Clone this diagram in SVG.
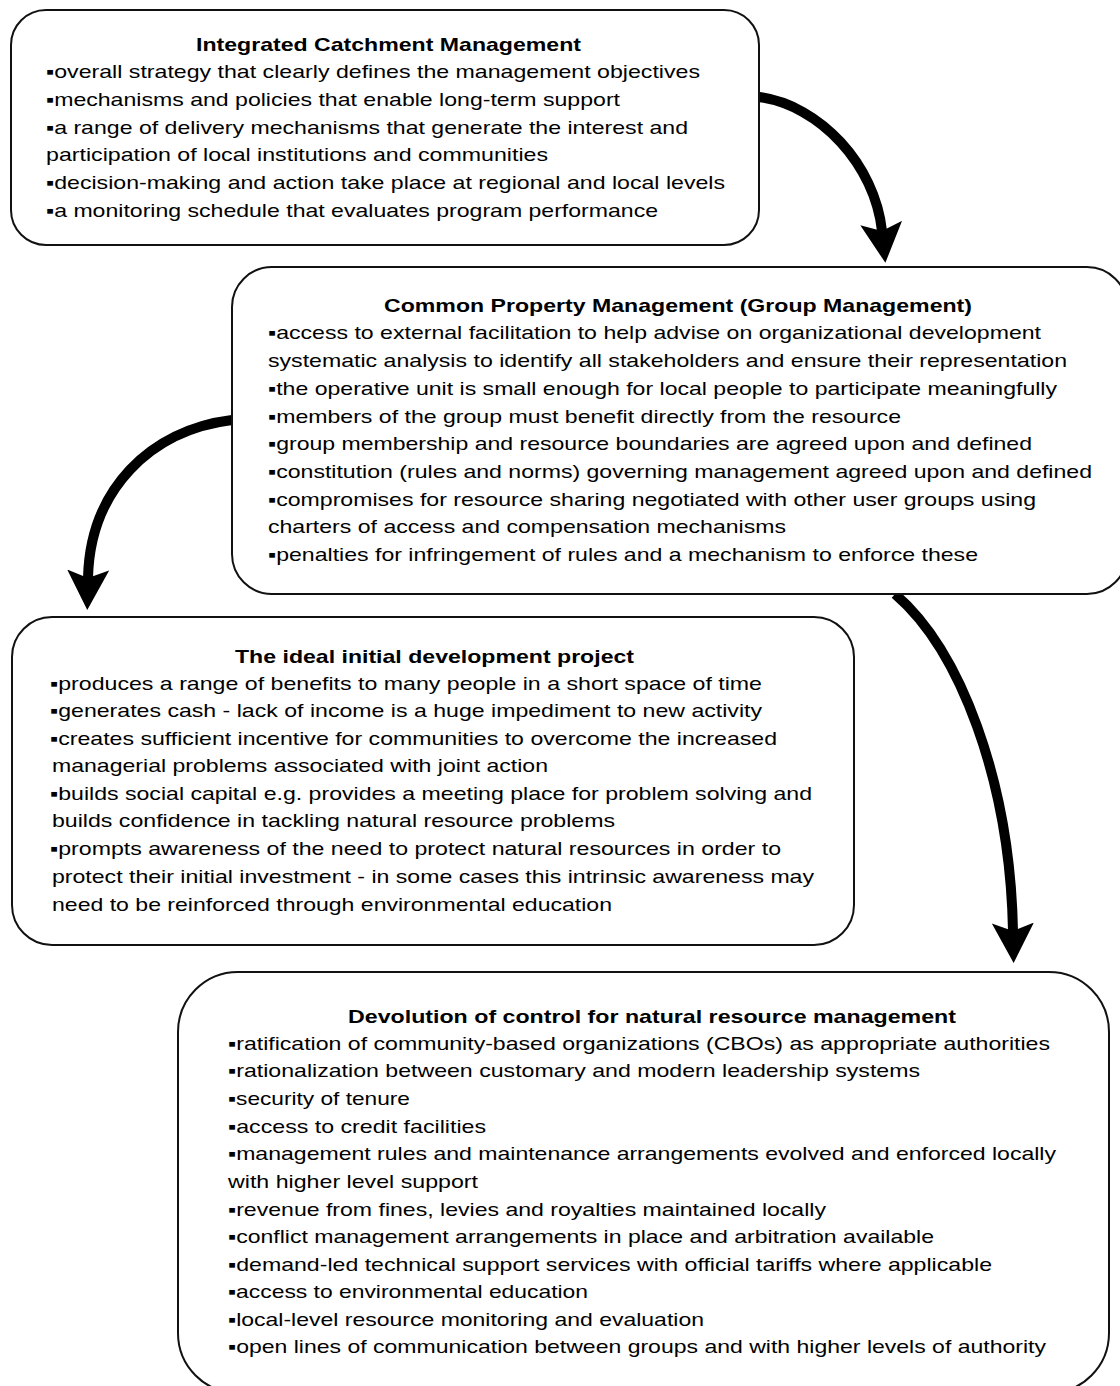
<svg xmlns="http://www.w3.org/2000/svg" width="1120" height="1386" viewBox="0 0 1120 1386">
<style>
.box{fill:#fff;stroke:#111;stroke-width:2}
text{font-family:"Liberation Sans",Arial,sans-serif;font-size:19px;fill:#000}
.t{font-weight:bold}
.arr{fill:none;stroke:#000;stroke-width:10}
</style>
<defs>
<marker id="ah" markerUnits="userSpaceOnUse" markerWidth="44" markerHeight="44" refX="8" refY="21" orient="auto" viewBox="0 0 44 44">
<path d="M0,0 L40,21 L0,42 L8,21 Z" fill="#000"/>
</marker>
</defs>
<rect width="1120" height="1386" fill="#fff"/>
<g id="connectors">
<path class="arr" d="M759,97 C820,105 875,165 882,231" marker-end="url(#ah)"/>
<path class="arr" d="M232,420 C150,430 90,490 88,578" marker-end="url(#ah)"/>
<path class="arr" stroke-width="9" d="M895,594 C960,650 1010,780 1013,931" marker-end="url(#ah)"/>
</g>
<g id="integrated-catchment">
<rect class="box" x="11" y="10" width="748" height="235" rx="35"/>
<text class="t" x="196" y="51" textLength="385" lengthAdjust="spacingAndGlyphs">Integrated Catchment Management</text>
<text x="46" y="78" textLength="654" lengthAdjust="spacingAndGlyphs">▪overall strategy that clearly defines the management objectives</text>
<text x="46" y="106" textLength="574" lengthAdjust="spacingAndGlyphs">▪mechanisms and policies that enable long-term support</text>
<text x="46" y="134" textLength="642" lengthAdjust="spacingAndGlyphs">▪a range of delivery mechanisms that generate the interest and</text>
<text x="46" y="161" textLength="502" lengthAdjust="spacingAndGlyphs">participation of local institutions and communities</text>
<text x="46" y="189" textLength="679" lengthAdjust="spacingAndGlyphs">▪decision-making and action take place at regional and local levels</text>
<text x="46" y="217" textLength="612" lengthAdjust="spacingAndGlyphs">▪a monitoring schedule that evaluates program performance</text>
</g>
<g id="common-property">
<rect class="box" x="232" y="267" width="895" height="327" rx="40"/>
<text class="t" x="384" y="312" textLength="588" lengthAdjust="spacingAndGlyphs">Common Property Management (Group Management)</text>
<text x="268" y="339" textLength="773" lengthAdjust="spacingAndGlyphs">▪access to external facilitation to help advise on organizational development</text>
<text x="268" y="367" textLength="799" lengthAdjust="spacingAndGlyphs">systematic analysis to identify all stakeholders and ensure their representation</text>
<text x="268" y="395" textLength="789" lengthAdjust="spacingAndGlyphs">▪the operative unit is small enough for local people to participate meaningfully</text>
<text x="268" y="423" textLength="633" lengthAdjust="spacingAndGlyphs">▪members of the group must benefit directly from the resource</text>
<text x="268" y="450" textLength="764" lengthAdjust="spacingAndGlyphs">▪group membership and resource boundaries are agreed upon and defined</text>
<text x="268" y="478" textLength="824" lengthAdjust="spacingAndGlyphs">▪constitution (rules and norms) governing management agreed upon and defined</text>
<text x="268" y="506" textLength="768" lengthAdjust="spacingAndGlyphs">▪compromises for resource sharing negotiated with other user groups using</text>
<text x="268" y="533" textLength="518" lengthAdjust="spacingAndGlyphs">charters of access and compensation mechanisms</text>
<text x="268" y="561" textLength="710" lengthAdjust="spacingAndGlyphs">▪penalties for infringement of rules and a mechanism to enforce these</text>
</g>
<g id="ideal-initial-project">
<rect class="box" x="12" y="617" width="842" height="328" rx="40"/>
<text class="t" x="235" y="663" textLength="399" lengthAdjust="spacingAndGlyphs">The ideal initial development project</text>
<text x="50" y="690" textLength="712" lengthAdjust="spacingAndGlyphs">▪produces a range of benefits to many people in a short space of time</text>
<text x="50" y="717" textLength="712" lengthAdjust="spacingAndGlyphs">▪generates cash - lack of income is a huge impediment to new activity</text>
<text x="50" y="745" textLength="727" lengthAdjust="spacingAndGlyphs">▪creates sufficient incentive for communities to overcome the increased</text>
<text x="52" y="772" textLength="496" lengthAdjust="spacingAndGlyphs">managerial problems associated with joint action</text>
<text x="50" y="800" textLength="762" lengthAdjust="spacingAndGlyphs">▪builds social capital e.g. provides a meeting place for problem solving and</text>
<text x="52" y="827" textLength="563" lengthAdjust="spacingAndGlyphs">builds confidence in tackling natural resource problems</text>
<text x="50" y="855" textLength="731" lengthAdjust="spacingAndGlyphs">▪prompts awareness of the need to protect natural resources in order to</text>
<text x="52" y="883" textLength="762" lengthAdjust="spacingAndGlyphs">protect their initial investment - in some cases this intrinsic awareness may</text>
<text x="52" y="911" textLength="560" lengthAdjust="spacingAndGlyphs">need to be reinforced through environmental education</text>
</g>
<g id="devolution-of-control">
<rect class="box" x="178" y="972" width="931" height="421" rx="60"/>
<text class="t" x="348" y="1023" textLength="608" lengthAdjust="spacingAndGlyphs">Devolution of control for natural resource management</text>
<text x="228" y="1050" textLength="822" lengthAdjust="spacingAndGlyphs">▪ratification of community-based organizations (CBOs) as appropriate authorities</text>
<text x="228" y="1077" textLength="692" lengthAdjust="spacingAndGlyphs">▪rationalization between customary and modern leadership systems</text>
<text x="228" y="1105" textLength="182" lengthAdjust="spacingAndGlyphs">▪security of tenure</text>
<text x="228" y="1133" textLength="258" lengthAdjust="spacingAndGlyphs">▪access to credit facilities</text>
<text x="228" y="1160" textLength="828" lengthAdjust="spacingAndGlyphs">▪management rules and maintenance arrangements evolved and enforced locally</text>
<text x="228" y="1188" textLength="250" lengthAdjust="spacingAndGlyphs">with higher level support</text>
<text x="228" y="1216" textLength="598" lengthAdjust="spacingAndGlyphs">▪revenue from fines, levies and royalties maintained locally</text>
<text x="228" y="1243" textLength="706" lengthAdjust="spacingAndGlyphs">▪conflict management arrangements in place and arbitration available</text>
<text x="228" y="1271" textLength="764" lengthAdjust="spacingAndGlyphs">▪demand-led technical support services with official tariffs where applicable</text>
<text x="228" y="1298" textLength="360" lengthAdjust="spacingAndGlyphs">▪access to environmental education</text>
<text x="228" y="1326" textLength="476" lengthAdjust="spacingAndGlyphs">▪local-level resource monitoring and evaluation</text>
<text x="228" y="1353" textLength="818" lengthAdjust="spacingAndGlyphs">▪open lines of communication between groups and with higher levels of authority</text>
</g>
</svg>
